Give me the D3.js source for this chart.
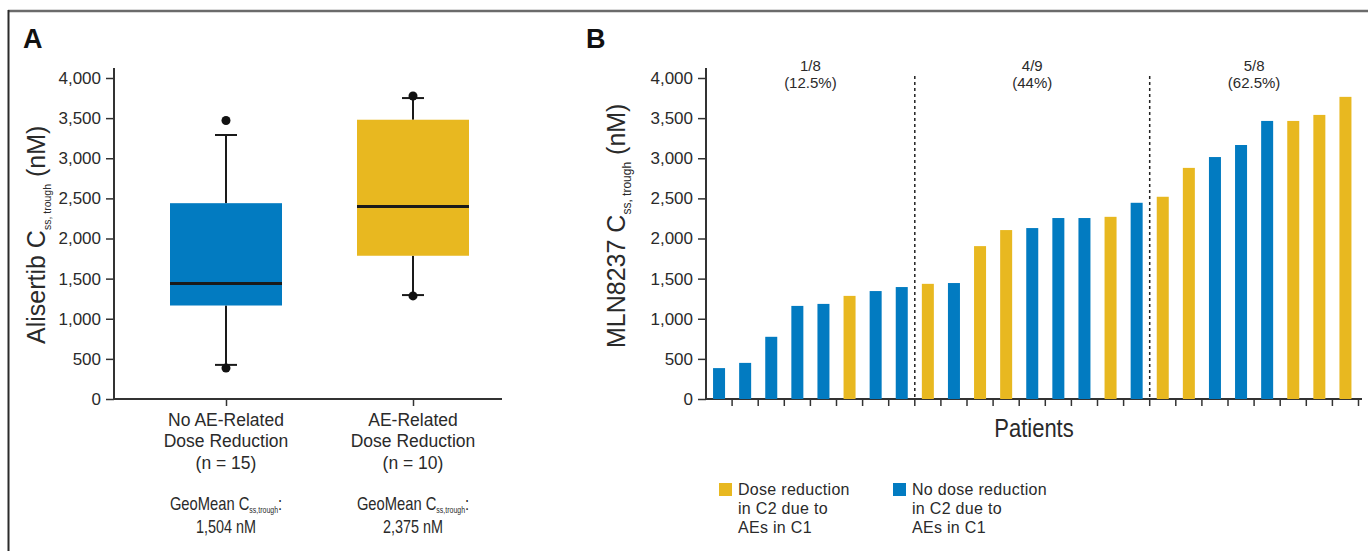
<!DOCTYPE html>
<html><head><meta charset="utf-8">
<script src="https://cdn.jsdelivr.net/npm/d3@7"></script>
<style>
html,body{margin:0;padding:0;background:#fff;}
svg{display:block;font-family:"Liberation Sans",Arial,Helvetica,sans-serif;}
</style></head>
<body>
<svg id="chart" width="1368" height="551"></svg>
<script>
// ---------- data ----------
const yTickValues = [0, 500, 1000, 1500, 2000, 2500, 3000, 3500, 4000];

// Panel A – box plots
const boxCategories = ["noAE", "AE"];
const boxLabelLines = [["No AE-Related", "Dose Reduction", "(n = 15)"], ["AE-Related", "Dose Reduction", "(n = 10)"]];
const boxQ1 = [1165, 1785];
const boxMedian = [1440, 2400];
const boxQ3 = [2440, 3480];
const whiskerLow = [425, 1295];
const whiskerHigh = [3290, 3750];
const outlierPoints = [[385, 3470], [1285, 3775]];
const geoMeanValues = ["1,504 nM", "2,375 nM"];
const boxColors = ["#027BC1", "#E8B820"];

// Panel B – per patient bars
const patientValues = [385, 450, 775, 1160, 1185, 1285, 1345, 1395,
  1435, 1445, 1905, 2105, 2130, 2255, 2255, 2270, 2445,
  2520, 2880, 3015, 3165, 3465, 3465, 3540, 3765];
const doseReduced = [0, 0, 0, 0, 0, 1, 0, 0,
  1, 0, 1, 1, 0, 0, 0, 1, 0,
  1, 1, 0, 0, 0, 1, 1, 1];
const groupSizes = [8, 9, 8];
const groupLabels = [["1/8", "(12.5%)"], ["4/9", "(44%)"], ["5/8", "(62.5%)"]];
const legendItems = [
  {lines: ["Dose reduction", "in C2 due to", "AEs in C1"], reduced: 1},
  {lines: ["No dose reduction", "in C2 due to", "AEs in C1"], reduced: 0}
];

// ---------- drawing ----------
const BLUE = "#027BC1", YELLOW = "#E8B820", INK = "#2a2a2a", AXIS = "#333";
const svg = d3.select("#chart");

// frame
svg.append("line").attr("x1", 8).attr("x2", 1368).attr("y1", 11).attr("y2", 11)
  .attr("stroke", "#6b6b6b").attr("stroke-width", 2.5);
svg.append("line").attr("x1", 8.5).attr("x2", 8.5).attr("y1", 10).attr("y2", 551)
  .attr("stroke", "#2b2b2b").attr("stroke-width", 2);

// shared y scale
const y = d3.scaleLinear().domain([0, 4000]).range([399, 78]);

function yAxis(x0) {
  const g = svg.append("g").attr("transform", `translate(${x0},0)`);
  g.call(d3.axisLeft(y).tickValues(yTickValues).tickSize(8).tickPadding(5).tickFormat(d3.format(",")));
  g.select(".domain").remove();
  g.selectAll(".tick line").attr("stroke", AXIS).attr("stroke-width", 1.5);
  g.selectAll(".tick text").attr("fill", INK).style("font-size", "17px")
    .style("font-family", '"Liberation Sans",Arial,sans-serif');
  g.append("line").attr("x1", 0).attr("x2", 0).attr("y1", 68).attr("y2", 400)
    .attr("stroke", AXIS).attr("stroke-width", 2);
  return g;
}

function yLabel(x, yStart, main, sub, subSize) {
  const t = svg.append("text").attr("transform", `translate(${x},${yStart}) rotate(-90)`)
    .attr("fill", INK).style("font-size", "25px");
  t.append("tspan").text(main);
  t.append("tspan").text(sub).style("font-size", subSize + "px").attr("dy", 6);
  t.append("tspan").text(" (nM)").attr("dy", -6);
}

// ---- Panel A ----
svg.append("text").attr("x", 23).attr("y", 48).text("A")
  .style("font-size", "27px").style("font-weight", "bold").attr("fill", "#111");
yAxis(114);
yLabel(45, 344, "Alisertib C", "ss, trough", 10.5);

const xA = d3.scalePoint().domain(boxCategories).range([226, 413]);
const boxW = 112, capW = 22;
// x axis
svg.append("line").attr("x1", 113).attr("x2", 502).attr("y1", 399).attr("y2", 399)
  .attr("stroke", AXIS).attr("stroke-width", 2);
const gxA = svg.append("g").attr("transform", "translate(0,399)")
  .call(d3.axisBottom(xA).tickSize(7).tickFormat(""));
gxA.select(".domain").remove();
gxA.selectAll(".tick line").attr("stroke", AXIS).attr("stroke-width", 1.5);

boxCategories.forEach((c, i) => {
  const cx = xA(c);
  const g = svg.append("g");
  // whiskers
  g.append("line").attr("x1", cx).attr("x2", cx).attr("y1", y(boxQ3[i])).attr("y2", y(whiskerHigh[i]))
    .attr("stroke", "#1a1a1a").attr("stroke-width", 2);
  g.append("line").attr("x1", cx).attr("x2", cx).attr("y1", y(boxQ1[i])).attr("y2", y(whiskerLow[i]))
    .attr("stroke", "#1a1a1a").attr("stroke-width", 2);
  [whiskerHigh[i], whiskerLow[i]].forEach(v => {
    g.append("line").attr("x1", cx - capW / 2).attr("x2", cx + capW / 2).attr("y1", y(v)).attr("y2", y(v))
      .attr("stroke", "#1a1a1a").attr("stroke-width", 2);
  });
  // box
  g.append("rect").attr("x", cx - boxW / 2).attr("width", boxW)
    .attr("y", y(boxQ3[i])).attr("height", y(boxQ1[i]) - y(boxQ3[i])).attr("fill", boxColors[i]);
  g.append("line").attr("x1", cx - boxW / 2).attr("x2", cx + boxW / 2)
    .attr("y1", y(boxMedian[i])).attr("y2", y(boxMedian[i])).attr("stroke", "#1a1a1a").attr("stroke-width", 3);
  // outliers
  outlierPoints[i].forEach(v => {
    g.append("circle").attr("cx", cx).attr("cy", y(v)).attr("r", 4.5).attr("fill", "#111");
  });
  // labels
  boxLabelLines[i].forEach((ln, k) => {
    svg.append("text").attr("x", cx).attr("y", [426, 447, 469][k]).attr("text-anchor", "middle")
      .attr("fill", INK).style("font-size", "17.5px").text(ln);
  });
  // condensed-style GeoMean text
  const gm = svg.append("text").attr("transform", `translate(${cx},510) scale(0.82,1)`)
    .attr("text-anchor", "middle").attr("fill", INK).style("font-size", "18px");
  gm.append("tspan").text("GeoMean C");
  gm.append("tspan").text("ss,trough").style("font-size", "8.5px").attr("dy", 3);
  gm.append("tspan").text(":").attr("dy", -3);
  svg.append("text").attr("transform", `translate(${cx},533) scale(0.8,1)`)
    .attr("text-anchor", "middle").attr("fill", INK).style("font-size", "18px")
    .text(geoMeanValues[i]);
});

// ---- Panel B ----
svg.append("text").attr("x", 586).attr("y", 48).text("B")
  .style("font-size", "27px").style("font-weight", "bold").attr("fill", "#111");
yAxis(706);
yLabel(625, 348, "MLN8237 C", "ss, trough", 12);

const idx = d3.range(patientValues.length);
const xB = d3.scaleBand().domain(idx).range([706, 1358.5]).paddingInner(0.54).paddingOuter(0.27);
const step = xB.step();
const boundary = i => xB(i) - step * xB.paddingInner() / 2;

svg.append("line").attr("x1", 705).attr("x2", 1362).attr("y1", 399).attr("y2", 399)
  .attr("stroke", AXIS).attr("stroke-width", 2);
// ticks at band boundaries
svg.append("g").selectAll("line").data(idx.slice(1).concat([patientValues.length])).join("line")
  .attr("x1", i => i < patientValues.length ? boundary(i) : boundary(i - 1) + step)
  .attr("x2", i => i < patientValues.length ? boundary(i) : boundary(i - 1) + step)
  .attr("y1", 399).attr("y2", 406).attr("stroke", AXIS).attr("stroke-width", 1.5);

svg.append("g").selectAll("rect").data(idx).join("rect")
  .attr("x", i => xB(i)).attr("width", xB.bandwidth())
  .attr("y", i => y(patientValues[i])).attr("height", i => y(0) - y(patientValues[i]))
  .attr("fill", i => doseReduced[i] ? YELLOW : BLUE);

// group separators and labels
let start = 0;
groupSizes.forEach((n, gi) => {
  const left = boundary(start);
  const right = start + n < patientValues.length ? boundary(start + n) : boundary(start + n - 1) + step;
  if (start + n < patientValues.length) {
    svg.append("line").attr("x1", right).attr("x2", right).attr("y1", 76).attr("y2", 399)
      .attr("stroke", "#222").attr("stroke-width", 1.5).attr("stroke-dasharray", "3,3");
  }
  const mid = (left + right) / 2;
  groupLabels[gi].forEach((t, k) => {
    svg.append("text").attr("x", mid).attr("y", [71, 88][k]).attr("text-anchor", "middle")
      .attr("fill", INK).style("font-size", "15px").text(t);
  });
  start += n;
});

svg.append("text").attr("transform", "translate(1034,437) scale(0.88,1)").attr("text-anchor", "middle")
  .attr("fill", INK).style("font-size", "25px").text("Patients");

// legend
const legX = [719, 893];
legendItems.forEach((it, i) => {
  svg.append("rect").attr("x", legX[i]).attr("y", 483).attr("width", 13).attr("height", 13)
    .attr("fill", it.reduced ? YELLOW : BLUE);
  it.lines.forEach((ln, k) => {
    svg.append("text").attr("x", legX[i] + 19).attr("y", [495, 514, 533][k])
      .attr("fill", INK).style("font-size", "16px").style("letter-spacing", "0.3px").text(ln);
  });
});
</script>
</body></html>
